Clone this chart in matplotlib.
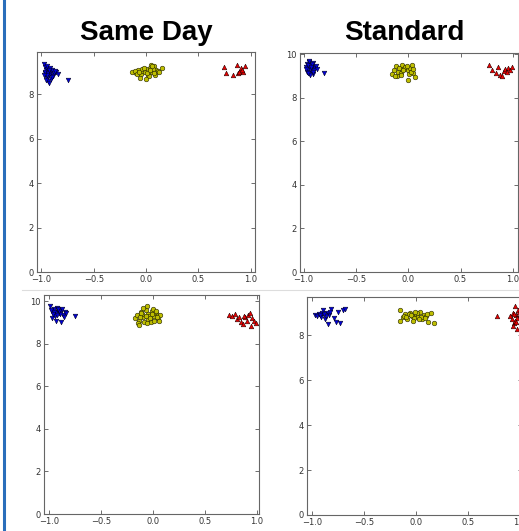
import matplotlib
matplotlib.use("Agg")
import matplotlib.pyplot as plt
from matplotlib.lines import Line2D

titles = ["Same Day", "Standard"]

# top left panel
bx_tl = [-0.98, -0.97, -0.96, -0.95, -0.97, -0.94, -0.93, -0.96, -0.92, -0.95, -0.91, -0.94, -0.90, -0.93, -0.88,
         -0.97, -0.95, -0.92, -0.89, -0.86, -0.84, -0.96, -0.94, -0.91, -0.93, -0.95, -0.75, -0.90, -0.87, -0.98]
by_tl = [9.35, 9.22, 9.10, 9.15, 8.95, 9.05, 8.90, 8.80, 9.00, 8.72, 8.85, 8.60, 9.08, 8.50, 8.95,
         9.02, 9.28, 9.18, 8.82, 8.98, 8.90, 8.65, 8.95, 8.70, 9.10, 8.88, 8.62, 8.78, 9.05, 8.85]
yx_tl = [-0.13, -0.10, -0.08, -0.05, -0.03, 0.00, 0.02, 0.04, 0.06, 0.08, 0.10, 0.15, -0.11, -0.06, -0.01,
         0.03, 0.07, 0.11, -0.09, -0.04, 0.01, 0.05, 0.09, -0.07, 0.00, 0.04, 0.08, -0.02, 0.06, 0.12]
yy_tl = [9.00, 8.95, 9.10, 8.90, 9.05, 9.15, 8.85, 9.20, 9.00, 9.25, 9.10, 9.20, 9.05, 8.75, 9.00,
         8.80, 9.15, 9.05, 8.90, 9.12, 8.95, 9.30, 8.85, 9.00, 8.70, 9.08, 8.95, 9.18, 9.28, 8.98]
rx_tl = [0.75, 0.76, 0.83, 0.87, 0.88, 0.90, 0.91, 0.93, 0.95, 0.92, 0.89]
ry_tl = [9.22, 8.95, 8.88, 9.30, 8.95, 9.05, 9.20, 9.00, 9.28, 9.10, 8.98]

# top right panel
bx_tr = [-0.98, -0.97, -0.96, -0.95, -0.94, -0.93, -0.92, -0.91, -0.90, -0.97, -0.95, -0.93, -0.91,
         -0.89, -0.96, -0.94, -0.92, -0.90, -0.88, -0.98, -0.95, -0.93, -0.87, -0.81, -0.96, -0.91]
by_tr = [9.40, 9.55, 9.30, 9.62, 9.45, 9.50, 9.35, 9.60, 9.42, 9.20, 9.15, 9.25, 9.10,
         9.38, 9.48, 9.06, 9.55, 9.28, 9.45, 9.30, 9.68, 9.40, 9.30, 9.14, 9.12, 9.20]
yx_tr = [-0.16, -0.14, -0.12, -0.10, -0.08, -0.06, -0.04, -0.02, 0.00, 0.02, 0.05, 0.06, -0.11,
         -0.07, -0.03, 0.01, 0.04, -0.09, -0.05, 0.00, 0.03, -0.13, -0.01, 0.05, -0.07]
yy_tr = [9.10, 9.25, 9.45, 9.20, 9.35, 9.50, 9.30, 9.42, 9.25, 9.38, 9.15, 8.95, 9.00,
         9.15, 9.40, 9.10, 9.48, 9.35, 9.28, 8.83, 9.20, 9.00, 9.45, 9.30, 9.05]
rx_tr = [0.77, 0.80, 0.84, 0.86, 0.88, 0.90, 0.92, 0.93, 0.95, 0.97, 0.99, 0.94]
ry_tr = [9.50, 9.25, 9.15, 9.42, 9.05, 9.00, 9.22, 9.30, 9.35, 9.28, 9.40, 9.18]

# bottom left panel
bx_bl = [-0.99, -0.97, -0.96, -0.95, -0.93, -0.92, -0.90, -0.88, -0.86, -0.84, -0.97, -0.94, -0.91,
         -0.89, -0.87, -0.95, -0.92, -0.90, -0.85, -0.83, -0.98, -0.93, -0.88, -0.75, -0.96, -0.91]
by_bl = [9.78, 9.55, 9.40, 9.62, 9.50, 9.70, 9.45, 9.60, 9.38, 9.52, 9.20, 9.30, 9.58,
         9.42, 9.65, 9.48, 9.35, 9.55, 9.25, 9.45, 9.60, 9.10, 9.05, 9.30, 9.40, 9.62]
yx_bl = [-0.17, -0.15, -0.13, -0.11, -0.09, -0.07, -0.05, -0.03, -0.01, 0.01, 0.03, 0.05, 0.07, -0.14,
         -0.10, -0.06, -0.02, 0.02, 0.06, -0.12, -0.08, -0.04, 0.00, 0.04, -0.09, -0.05, -0.01, 0.03,
         -0.13, -0.07, -0.03, 0.01, -0.11, -0.06]
yy_bl = [9.20, 9.35, 9.10, 9.50, 9.25, 9.60, 9.40, 9.15, 9.55, 9.30, 9.45, 9.20, 9.35, 9.00,
         9.40, 9.78, 9.05, 9.50, 9.10, 9.25, 9.05, 9.30, 9.65, 9.25, 9.70, 9.15, 9.40, 9.55,
         8.89, 9.30, 9.20, 9.10, 9.45, 9.00]
rx_bl = [0.73, 0.76, 0.79, 0.81, 0.83, 0.85, 0.87, 0.89, 0.91, 0.93, 0.95, 0.97, 0.99, 0.90, 0.94, 0.88]
ry_bl = [9.35, 9.30, 9.40, 9.15, 9.25, 9.05, 8.95, 9.25, 9.35, 9.47, 9.20, 9.10, 9.00, 9.10, 8.84, 9.30]

# bottom right panel
bx_br = [-0.97, -0.95, -0.93, -0.91, -0.89, -0.87, -0.85, -0.83, -0.81, -0.79, -0.77, -0.75, -0.73,
         -0.70, -0.68, -0.90, -0.86, -0.84, -0.88, -0.82, -0.92]
by_br = [8.90, 8.85, 8.95, 8.80, 9.10, 8.70, 9.00, 8.90, 9.15, 8.75, 8.60, 9.05, 8.55,
         9.10, 9.15, 9.00, 8.85, 8.52, 8.95, 9.05, 8.92]
yx_br = [-0.15, -0.12, -0.10, -0.08, -0.06, -0.04, -0.02, 0.00, 0.02, 0.04, 0.06, 0.08, 0.10, 0.12,
         0.15, 0.17, -0.11, -0.07, -0.03, 0.01, 0.05, 0.09, -0.15, -0.05, 0.03, 0.11, -0.09, -0.01]
yy_br = [9.10, 8.80, 8.95, 8.70, 9.00, 8.85, 8.75, 8.95, 8.80, 9.05, 8.70, 8.90, 8.85, 8.60,
         9.00, 8.55, 8.85, 8.95, 8.65, 9.00, 8.82, 8.75, 8.62, 8.92, 8.72, 8.95, 8.80, 9.05]
rx_br = [0.78, 0.90, 0.92, 0.93, 0.94, 0.95, 0.96, 0.97, 0.98, 1.00, 0.93, 0.95, 0.97, 0.99, 0.94, 0.96]
ry_br = [8.86, 8.85, 8.70, 9.00, 8.55, 9.30, 8.90, 8.75, 9.10, 8.95, 8.40, 8.65, 8.27, 9.05, 8.95, 8.60]

W, H = 519, 531
fig = plt.figure(figsize=(W / 100, H / 100), dpi=100)


def px_axes(left, top, right, bottom):
    # axes placed by pixel edges of the reference
    return fig.add_axes([left / W, 1 - bottom / H, (right - left) / W, (bottom - top) / H])


def panel(ax, bx, by, yx, yy, rx, ry, xlim, ylim):
    ax.scatter(bx, by, marker="v", s=11, c="#0000dd", edgecolors="#000022", linewidths=0.4, zorder=3)
    ax.scatter(yx, yy, marker="o", s=11, c="#bfbf00", edgecolors="#222200", linewidths=0.4, zorder=3)
    ax.scatter(rx, ry, marker="^", s=11, c="#ee0000", edgecolors="#220000", linewidths=0.4, zorder=3)
    ax.set_xticks([-1.0, -0.5, 0.0, 0.5, 1.0])
    ax.set_yticks([0, 2, 4, 6, 8, 10])
    # limits after ticks so the tick list does not widen them
    ax.set_xlim(xlim)
    ax.set_ylim(ylim)
    ax.tick_params(direction="in", top=True, right=True, length=3, width=0.6,
                   labelsize=6, pad=2, colors="#555555", labelcolor="#333333")
    for sp in ax.spines.values():
        sp.set_color("#666666")
        sp.set_linewidth(0.8)


ax1 = px_axes(36.5, 52, 255, 272)
panel(ax1, bx_tl, by_tl, yx_tl, yy_tl, rx_tl, ry_tl, (-1.047, 1.042), (0, 9.9))
ax2 = px_axes(299.5, 53, 518, 272)
panel(ax2, bx_tr, by_tr, yx_tr, yy_tr, rx_tr, ry_tr, (-1.04, 1.05), (0, 10.05))
ax3 = px_axes(43.5, 295, 259, 514)
panel(ax3, bx_bl, by_bl, yx_bl, yy_bl, rx_bl, ry_bl, (-1.05, 1.02), (0, 10.3))
ax4 = px_axes(306.5, 297, 522, 515)
panel(ax4, bx_br, by_br, yx_br, yy_br, rx_br, ry_br, (-1.05, 1.02), (0, 9.7))

# titles over the top row
fig.text(146 / W, 1 - 40 / H, titles[0], ha="center", va="baseline",
         fontsize=20, fontweight="bold", family="Liberation Sans")
fig.text(404 / W, 1 - 40 / H, titles[1], ha="center", va="baseline",
         fontsize=20, fontweight="bold", family="Liberation Sans")

# blue bar on the left and light separator between the rows
fig.add_artist(Line2D([4.5 / W, 4.5 / W], [0, 1], color="#2a6ebb", linewidth=2.2))
fig.add_artist(Line2D([22 / W, 1], [1 - 290 / H, 1 - 290 / H], color="#dddddd", linewidth=0.8))

fig.savefig("out.png", dpi=100)
